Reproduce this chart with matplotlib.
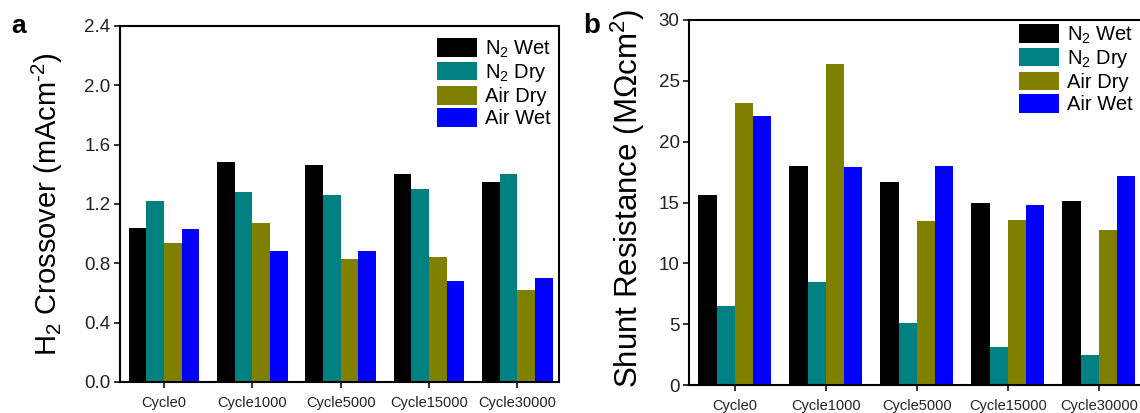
import matplotlib
matplotlib.use("Agg")
import matplotlib.pyplot as plt
import numpy as np

plt.rcParams['font.family'] = ['Liberation Sans', 'DejaVu Sans']
plt.rcParams['mathtext.fontset'] = 'custom'
plt.rcParams['mathtext.rm'] = 'Liberation Sans'
plt.rcParams['mathtext.it'] = 'Liberation Sans:italic'
plt.rcParams['mathtext.bf'] = 'Liberation Sans:bold'
plt.rcParams['mathtext.default'] = 'regular'

categories = ["Cycle0", "Cycle1000", "Cycle5000", "Cycle15000", "Cycle30000"]
series_names = ["N$_2$ Wet", "N$_2$ Dry", "Air Dry", "Air Wet"]
colors = ["#000000", "#008080", "#808000", "#0000FF"]

# Panel a: H2 crossover (mA cm^-2)
crossover_n2_wet = [1.04, 1.48, 1.46, 1.40, 1.35]
crossover_n2_dry = [1.22, 1.28, 1.26, 1.30, 1.40]
crossover_air_dry = [0.94, 1.07, 0.83, 0.84, 0.62]
crossover_air_wet = [1.03, 0.88, 0.88, 0.68, 0.70]

# Panel b: shunt resistance (MOhm cm^2)
shunt_n2_wet = [15.6, 18.0, 16.7, 15.0, 15.1]
shunt_n2_dry = [6.5, 8.5, 5.1, 3.1, 2.5]
shunt_air_dry = [23.2, 26.4, 13.5, 13.6, 12.7]
shunt_air_wet = [22.1, 17.9, 18.0, 14.8, 17.2]

yticks_a = [0.0, 0.4, 0.8, 1.2, 1.6, 2.0, 2.4]
yticks_b = [0, 5, 10, 15, 20, 25, 30]

W, H = 1140, 413
fig = plt.figure(figsize=(W / 100, H / 100), dpi=100)

def px_axes(left, right, bottom, top):
    return fig.add_axes([left / W, (H - bottom) / H, (right - left) / W, (bottom - top) / H])

ax_a = px_axes(120, 559, 382, 26)
ax_b = px_axes(689.3, 1141.5, 385, 20)

def draw(ax, data, yticks, ylim, ylabel, ytick_fs, ylabel_fs, label_x, label_y, leg_anchor, leg_fs):
    x = np.arange(len(categories))
    w = 0.2
    for j, (vals, name, c) in enumerate(zip(data, series_names, colors)):
        ax.bar(x + (j - 1.5) * w, vals, width=w, color=c, label=name, linewidth=0)
    ax.set_xlim(-0.5, len(categories) - 0.53)
    ax.set_ylim(*ylim)
    ax.set_xticks(x)
    ax.set_xticklabels(categories, fontsize=10.5)
    ax.set_yticks(yticks)
    if isinstance(yticks[0], float):
        ax.set_yticklabels([f"{t:.1f}" for t in yticks])
    for lab in ax.get_yticklabels():
        lab.set_fontsize(ytick_fs)
    for s in ax.spines.values():
        s.set_linewidth(1.5)
    ax.tick_params(axis='both', direction='out', length=4, width=1.3, pad=3, colors='#222222')
    ax.tick_params(axis='x', pad=6)
    ax.set_ylabel(ylabel, fontsize=ylabel_fs)
    ax.yaxis.set_label_coords(label_x, label_y)
    ax.legend(loc='upper left', bbox_to_anchor=leg_anchor, frameon=False,
              fontsize=leg_fs, handlelength=2.0, handleheight=1.05,
              labelspacing=0.1, handletextpad=0.4, borderpad=0, borderaxespad=0)

draw(ax_a, [crossover_n2_wet, crossover_n2_dry, crossover_air_dry, crossover_air_wet],
     yticks_a, (0, 2.4), "H$_2$ Crossover (mAcm$^{\\text{-}2}$)", 13.5, 21, -0.125, 0.5,
     (0.721, 0.966), 14.5)
draw(ax_b, [shunt_n2_wet, shunt_n2_dry, shunt_air_dry, shunt_air_wet],
     yticks_b, (0, 30), "Shunt Resistance (M\u03a9cm$^{2}$)", 13.5, 22.5, -0.094, 0.51,
     (0.7285, 0.989), 14.5)

fig.text(11 / W, 1 - 33 / H, "a", fontsize=19, fontweight='bold', ha='left', va='baseline')
fig.text(583 / W, 1 - 33 / H, "b", fontsize=20, fontweight='bold', ha='left', va='baseline')

fig.savefig("out.png", dpi=100)
